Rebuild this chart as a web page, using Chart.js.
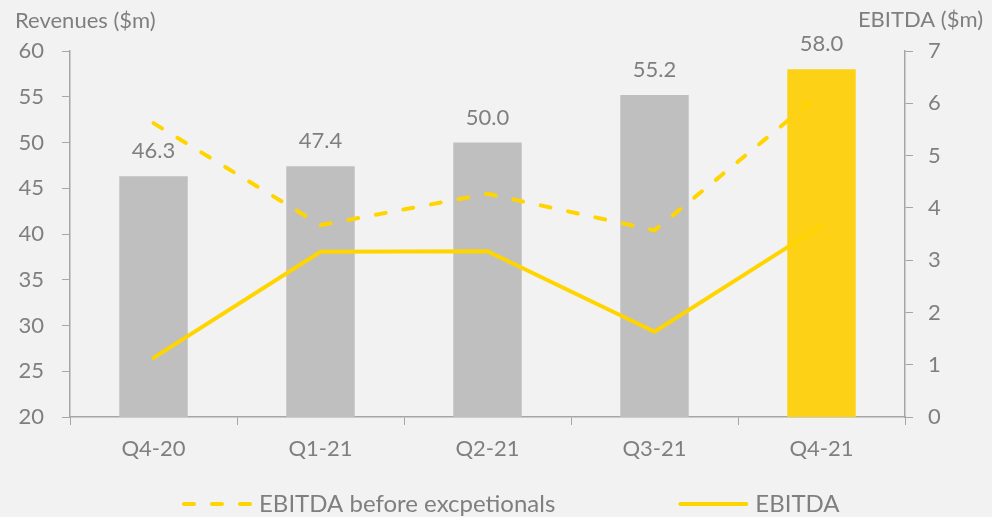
<!DOCTYPE html>
<html>
<head>
<meta charset="utf-8">
<script src="https://cdn.jsdelivr.net/npm/chart.js@4"></script>
<style>
  body { margin: 0; background: #f2f2f2; }
  #wrap { width: 992px; height: 517px; }
</style>
</head>
<body>
<div id="wrap"><canvas id="chart" width="992" height="517"></canvas></div>
<script>
const categories = ['Q4-20', 'Q1-21', 'Q2-21', 'Q3-21', 'Q4-21'];
const revenues = [46.3, 47.4, 50.0, 55.2, 58.0];
const ebitdaBefore = [5.62, 3.67, 4.27, 3.57, 6.2];
const ebitda = [1.13, 3.16, 3.17, 1.63, 3.66];
const revenueTicks = { min: 20, max: 60, step: 5 };
const ebitdaTicks = { min: 0, max: 7, step: 1 };

const FONT = 'Lato';
const GREY_TXT = '#7f7f7f';
const AXIS = '#a6a6a6';
const LINE_YEL = '#ffd500';

// value labels above the bars
const barLabels = {
    id: 'barLabels',
    afterDatasetsDraw(chart) {
        const ctx = chart.ctx;
        const meta = chart.getDatasetMeta(0);
        ctx.save();
        ctx.font = '22px ' + FONT;
        ctx.fillStyle = GREY_TXT;
        ctx.textAlign = 'center';
        ctx.textBaseline = 'middle';
        meta.data.forEach((bar, i) => {
            ctx.fillText(revenues[i].toFixed(1), bar.x, bar.y - 25);
        });
        ctx.restore();
    }
};

// axis titles + legend at the bottom
const extras = {
    id: 'extras',
    afterDraw(chart) {
        const ctx = chart.ctx;
        ctx.save();
        ctx.font = '22px ' + FONT;
        ctx.fillStyle = GREY_TXT;
        ctx.textBaseline = 'middle';
        ctx.textAlign = 'left';
        ctx.fillText('Revenues ($m)', 15, 21);
        ctx.textAlign = 'right';
        ctx.fillText('EBITDA ($m)', 983, 20);

        // legend
        ctx.font = '24px ' + FONT;
        let x = 182;
        const y = 504;
        chart.data.datasets.slice(1).forEach((ds) => {
            ctx.strokeStyle = ds.borderColor;
            ctx.lineWidth = ds.borderWidth;
            ctx.lineCap = ds.borderCapStyle || 'round';
            ctx.setLineDash(ds.borderDash || []);
            ctx.beginPath();
            ctx.moveTo(x + 2, y);
            ctx.lineTo(x + 68, y);
            ctx.stroke();
            ctx.setLineDash([]);
            ctx.textAlign = 'left';
            ctx.fillText(ds.label, x + 77, y);
            x += 77 + ctx.measureText(ds.label).width + 123;
        });
        ctx.restore();
    }
};

const config = {
    type: 'bar',
    data: {
        labels: categories,
        datasets: [
            {
                label: 'Revenues',
                data: revenues,
                backgroundColor: ['#bfbfbf', '#bfbfbf', '#bfbfbf', '#bfbfbf', '#fcd116'],
                yAxisID: 'y',
                categoryPercentage: 1,
                barPercentage: 0.41,
                order: 2
            },
            {
                label: 'EBITDA before excpetionals',
                type: 'line',
                data: ebitdaBefore,
                borderColor: LINE_YEL,
                borderWidth: 4,
                borderDash: [10, 18],
                borderCapStyle: 'round',
                pointRadius: 0,
                tension: 0,
                yAxisID: 'y1',
                order: 1
            },
            {
                label: 'EBITDA',
                type: 'line',
                data: ebitda,
                borderColor: LINE_YEL,
                borderWidth: 4,
                borderCapStyle: 'round',
                pointRadius: 0,
                tension: 0,
                yAxisID: 'y1',
                order: 1
            }
        ]
    },
    options: {
        responsive: false,
        animation: false,
        layout: { padding: { top: 51, left: 0, right: 0, bottom: 0 } },
        plugins: {
            legend: { display: false },
            tooltip: { enabled: false }
        },
        scales: {
            x: {
                offset: true,
                grid: { drawOnChartArea: false, tickLength: 8, color: AXIS, offset: true },
                border: { color: AXIS, width: 1.5 },
                ticks: { font: { family: FONT, size: 22 }, color: GREY_TXT, padding: 11 },
                afterFit(s) { s.height = 100; }
            },
            y: {
                position: 'left',
                min: revenueTicks.min,
                max: revenueTicks.max,
                grid: { drawOnChartArea: false, tickLength: 8, color: AXIS },
                border: { color: AXIS, width: 1.5 },
                ticks: { stepSize: revenueTicks.step, font: { family: FONT, size: 22 }, color: GREY_TXT, padding: 18 },
                afterFit(s) { s.width = 70; }
            },
            y1: {
                position: 'right',
                min: ebitdaTicks.min,
                max: ebitdaTicks.max,
                grid: { drawOnChartArea: false, tickLength: 8, color: AXIS },
                border: { color: AXIS, width: 1.5 },
                ticks: { stepSize: ebitdaTicks.step, font: { family: FONT, size: 22 }, color: GREY_TXT, padding: 15 },
                afterFit(s) { s.width = 87; }
            }
        }
    },
    plugins: [barLabels, extras]
};

const chart = new Chart(document.getElementById('chart'), config);
</script>
</body>
</html>
